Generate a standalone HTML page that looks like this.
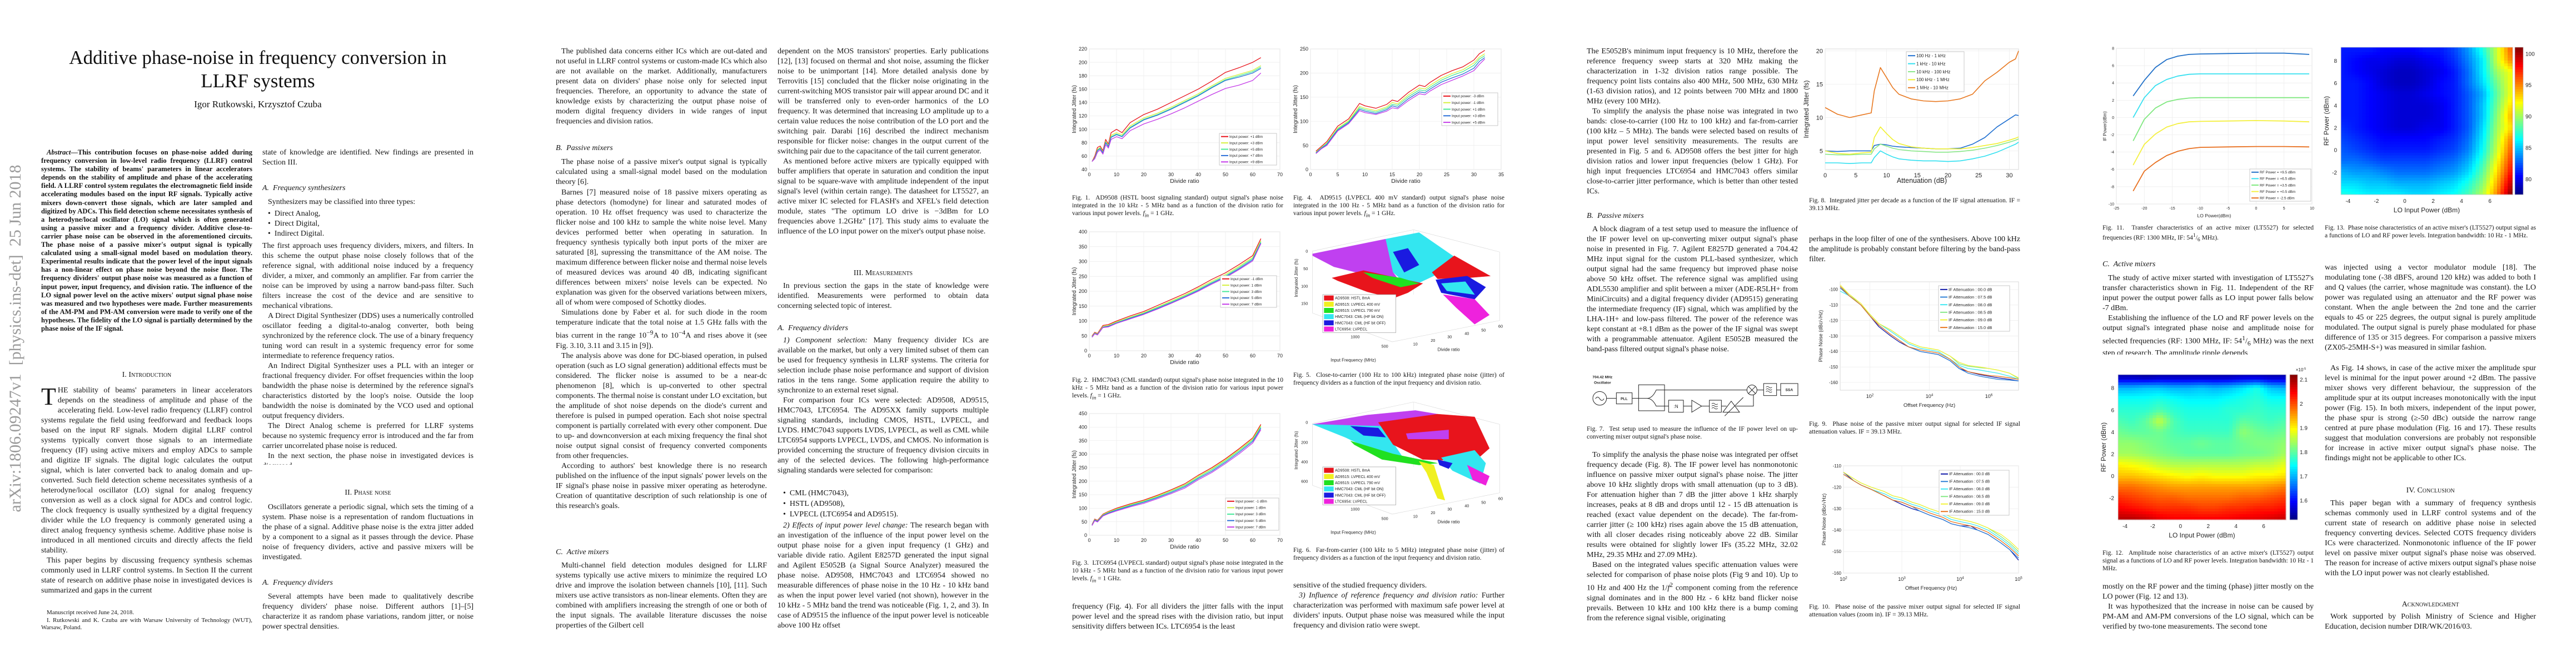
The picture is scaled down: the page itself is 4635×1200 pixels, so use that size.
<!DOCTYPE html>
<html><head><meta charset="utf-8">
<style>
html,body{margin:0;padding:0;background:#fff;}
body{width:4635px;height:1200px;position:relative;overflow:hidden;}
.t{position:absolute;width:380px;font-family:"Liberation Serif",serif;font-size:14px;line-height:18px;text-align:justify;color:#151515;overflow:hidden;}
.t p{margin:0;text-indent:10px;}
.h{position:absolute;width:380px;font-family:"Liberation Serif",serif;font-size:14px;line-height:18px;color:#151515;}
.hc{text-align:center;font-variant:small-caps;}
.hi{font-style:italic;}
.cap{position:absolute;width:380px;font-family:"Liberation Serif",serif;font-size:11.5px;line-height:14px;text-align:justify;color:#151515;overflow:hidden;}
.abs{font-weight:bold;font-size:12.6px;line-height:15.1px;}
.fn{font-size:11px;line-height:13.5px;}
.li{position:absolute;font-family:"Liberation Serif",serif;font-size:14px;line-height:18px;color:#151515;}
svg text{font-family:"Liberation Sans",sans-serif;}
</style></head>
<body>
<div style="position:absolute;left:28px;top:609px;transform:translate(-50%,-50%) rotate(-90deg);font-family:'Liberation Serif',serif;font-size:30px;color:#9a9a9a;white-space:nowrap;">arXiv:1806.09247v1&nbsp; [physics.ins-det]&nbsp; 25 Jun 2018</div>

<div style="position:absolute;left:0;top:83px;width:928px;text-align:center;font-family:'Liberation Serif',serif;font-size:35px;line-height:42px;color:#111;">Additive phase-noise in frequency conversion in<br>LLRF systems</div>
<div style="position:absolute;left:0;top:178px;width:928px;text-align:center;font-family:'Liberation Serif',serif;font-size:17px;color:#111;">Igor Rutkowski, Krzysztof Czuba</div>

<div class="t abs" style="left:74px;top:267px;height:364px;"><p><i>Abstract</i>—This contribution focuses on phase-noise added during frequency conversion in low-level radio frequency (LLRF) control systems. The stability of beams' parameters in linear accelerators depends on the stability of amplitude and phase of the accelerating field. A LLRF control system regulates the electromagnetic field inside accelerating modules based on the input RF signals. Typically active mixers down-convert those signals, which are later sampled and digitized by ADCs. This field detection scheme necessitates synthesis of a heterodyne/local oscillator (LO) signal which is often generated using a passive mixer and a frequency divider. Additive close-to-carrier phase noise can be observed in the aforementioned circuits. The phase noise of a passive mixer's output signal is typically calculated using a small-signal model based on modulation theory. Experimental results indicate that the power level of the input signals has a non-linear effect on phase noise beyond the noise floor. The frequency dividers' output phase noise was measured as a function of input power, input frequency, and division ratio. The influence of the LO signal power level on the active mixers' output signal phase noise was measured and two hypotheses were made. Further measurements of the AM-PM and PM-AM conversion were made to verify one of the hypotheses. The fidelity of the LO signal is partially determined by the phase noise of the IF signal.</p></div>

<div class="h hc" style="left:74px;top:666px;">I. Introduction</div>
<div class="t" style="left:74px;top:694px;height:378px;"><p style="text-indent:0"><span style="float:left;font-size:44px;line-height:36px;margin:2px 3px 0 0;">T</span>HE stability of beams' parameters in linear accelerators depends on the steadiness of amplitude and phase of the accelerating field. Low-level radio frequency (LLRF) control systems regulate the field using feedforward and feedback loops based on the input RF signals. Modern digital LLRF control systems typically convert those signals to an intermediate frequency (IF) using active mixers and employ ADCs to sample and digitize IF signals. The digital logic calculates the output signal, which is later converted back to analog domain and up-converted. Such field detection scheme necessitates synthesis of a heterodyne/local oscillator (LO) signal for analog frequency conversion as well as a clock signal for ADCs and control logic. The clock frequency is usually synthesized by a digital frequency divider while the LO frequency is commonly generated using a direct analog frequency synthesis scheme. Additive phase noise is introduced in all mentioned circuits and directly affects the field stability.</p><p>This paper begins by discussing frequency synthesis schemas commonly used in LLRF control systems. In Section II the current state of research on additive phase noise in investigated devices is summarized and gaps in the current</p></div>
<div class="t fn" style="left:74px;top:1096px;height:42px;"><p>Manuscript received June 24, 2018.</p><p>I. Rutkowski and K. Czuba are with Warsaw University of Technology (WUT), Warsaw, Poland.</p></div>

<div class="t" style="left:472px;top:266px;height:36px;">state of knowledge are identified. New findings are presented in Section III.</div>
<div class="h hi" style="left:472px;top:330px;">A.&nbsp; Frequency synthesizers</div>
<div class="h" style="left:482px;top:355px;">Synthesizers may be classified into three types:</div>
<div class="li" style="left:482px;top:376px;">•&nbsp; Direct Analog,</div>
<div class="li" style="left:482px;top:394px;">•&nbsp; Direct Digital,</div>
<div class="li" style="left:482px;top:412px;">•&nbsp; Indirect Digital.</div>
<div class="t" style="left:472px;top:434px;height:402px;"><p style="text-indent:0">The first approach uses frequency dividers, mixers, and filters. In this scheme the output phase noise closely follows that of the reference signal, with additional noise induced by a frequency divider, a mixer, and commonly an amplifier. Far from carrier the noise can be improved by using a narrow band-pass filter. Such filters increase the cost of the device and are sensitive to mechanical vibrations.</p><p>A Direct Digital Synthesizer (DDS) uses a numerically controlled oscillator feeding a digital-to-analog converter, both being synchronized by the reference clock. The use of a binary frequency tuning word can result in a systemic frequency error for some intermediate to reference frequency ratios.</p><p>An Indirect Digital Synthesizer uses a PLL with an integer or fractional frequency divider. For offset frequencies within the loop bandwidth the phase noise is determined by the reference signal's characteristics distorted by the loop's noise. Outside the loop bandwidth the noise is dominated by the VCO used and optional output frequency dividers.</p><p>The Direct Analog scheme is preferred for LLRF systems because no systemic frequency error is introduced and the far from carrier uncorrelated phase noise is reduced.</p><p>In the next section, the phase noise in investigated devices is discussed.</p></div>
<div class="h hc" style="left:472px;top:878px;">II. Phase noise</div>
<div class="t" style="left:472px;top:904px;height:108px;"><p>Oscillators generate a periodic signal, which sets the timing of a system. Phase noise is a representation of random fluctuations in the phase of a signal. Additive phase noise is the extra jitter added by a component to a signal as it passes through the device. Phase noise of frequency dividers, active and passive mixers will be investigated.</p></div>
<div class="h hi" style="left:472px;top:1040px;">A.&nbsp; Frequency dividers</div>
<div class="t" style="left:472px;top:1065px;height:72px;"><p>Several attempts have been made to qualitatively describe frequency dividers' phase noise. Different authors [1]–[5] characterize it as random phase variations, random jitter, or noise power spectral densities.</p></div>

<!-- PAGE 2 -->
<div class="t" style="left:1000px;top:84px;height:144px;"><p>The published data concerns either ICs which are out-dated and not useful in LLRF control systems or custom-made ICs which also are not available on the market. Additionally, manufacturers present data on dividers' phase noise only for selected input frequencies. Therefore, an opportunity to advance the state of knowledge exists by characterizing the output phase noise of modern digital frequency dividers in wide ranges of input frequencies and division ratios.</p></div>
<div class="h hi" style="left:1000px;top:258px;">B.&nbsp; Passive mixers</div>
<div class="t" style="left:1000px;top:283px;height:54px;"><p>The phase noise of a passive mixer's output signal is typically calculated using a small-signal model based on the modulation theory [6].</p></div>
<div class="t" style="left:1000px;top:338px;height:618px;"><p>Barnes [7] measured noise of 18 passive mixers operating as phase detectors (homodyne) for linear and saturated modes of operation. 10 Hz offset frequency was used to characterize the flicker noise and 100 kHz to sample the white noise level. Many devices performed better when operating in saturation. In frequency synthesis typically both input ports of the mixer are saturated [8], supressing the transmittance of the AM noise. The maximum difference between flicker noise and thermal noise levels of measured devices was around 40 dB, indicating significant differences between mixers' noise levels can be expected. No explanation was given for the observed variations between mixers, all of whom were composed of Schottky diodes.</p><p>Simulations done by Faber et al. for such diode in the room temperature indicate that the total noise at 1.5 GHz falls with the bias current in the range 10<sup>−9</sup>A to 10<sup>−4</sup>A and rises above it (see Fig. 3.10, 3.11 and 3.15 in [9]).</p><p>The analysis above was done for DC-biased operation, in pulsed operation (such as LO signal generation) additional effects must be considered. The flicker noise is assumed to be a near-dc phenomenon [8], which is up-converted to other spectral components. The thermal noise is constant under LO excitation, but the amplitude of shot noise depends on the diode's current and therefore is pulsed in pumped operation. Each shot noise spectral component is partially correlated with every other component. Due to up- and downconversion at each mixing frequency the final shot noise output signal consist of frequency converted components from other frequencies.</p><p>According to authors' best knowledge there is no research published on the influence of the input signals' power levels on the IF signal's phase noise in passive mixer operating as heterodyne. Creation of quantitative description of such relationship is one of this research's goals.</p></div>
<div class="h hi" style="left:1000px;top:985px;">C.&nbsp; Active mixers</div>
<div class="t" style="left:1000px;top:1009px;height:126px;"><p>Multi-channel field detection modules designed for LLRF systems typically use active mixers to minimize the required LO drive and improve the isolation between channels [10], [11]. Such mixers use active transistors as non-linear elements. Often they are combined with amplifiers increasing the strength of one or both of the input signals. The available literature discusses the noise properties of the Gilbert cell</p></div>
<div class="t" style="left:1399px;top:84px;height:378px;"><p style="text-indent:0">dependent on the MOS transistors' properties. Early publications [12], [13] focused on thermal and shot noise, assuming the flicker noise to be unimportant [14]. More detailed analysis done by Terrovitis [15] concluded that the flicker noise originating in the current-switching MOS transistor pair will appear around DC and it will be transferred only to even-order harmonics of the LO frequency. It was determined that increasing LO amplitude up to a certain value reduces the noise contribution of the LO port and the switching pair. Darabi [16] described the indirect mechanism responsible for flicker noise: changes in the output current of the switching pair due to the capacitance of the tail current generator.</p><p>As mentioned before active mixers are typically equipped with buffer amplifiers that operate in saturation and condition the input signal to be square-wave with amplitude independent of the input signal's level (within certain range). The datasheet for LT5527, an active mixer IC selected for FLASH's and XFEL's field detection module, states "The optimum LO drive is −3dBm for LO frequencies above 1.2GHz" [17]. This study aims to evaluate the influence of the LO input power on the mixer's output phase noise.</p></div>
<div class="h hc" style="left:1399px;top:483px;">III. Measurements</div>
<div class="t" style="left:1399px;top:506px;height:54px;"><p>In previous section the gaps in the state of knowledge were identified. Measurements were performed to obtain data concerning selected topic of interest.</p></div>
<div class="h hi" style="left:1399px;top:582px;">A.&nbsp; Frequency dividers</div>
<div class="t" style="left:1399px;top:604px;height:272px;"><p><i>1) Component selection:</i> Many frequency divider ICs are available on the market, but only a very limited subset of them can be used for frequency synthesis in LLRF systems. The criteria for selection include phase noise performance and support of division ratios in the tens range. Some application require the ability to synchronize to an external reset signal.</p><p>For comparison four ICs were selected: AD9508, AD9515, HMC7043, LTC6954. The AD95XX family supports multiple signaling standards, including CMOS, HSTL, LVPECL, and LVDS. HMC7043 supports LVDS, LVPECL, as well as CML while LTC6954 supports LVPECL, LVDS, and CMOS. No information is provided concerning the structure of frequency division circuits in any of the selected devices. The following high-performance signaling standards were selected for comparison:</p></div>
<div class="li" style="left:1409px;top:879px;">•&nbsp; CML (HMC7043),</div>
<div class="li" style="left:1409px;top:898px;">•&nbsp; HSTL (AD9508),</div>
<div class="li" style="left:1409px;top:917px;">•&nbsp; LVPECL (LTC6954 and AD9515).</div>
<div class="t" style="left:1399px;top:937px;height:198px;"><p><i>2) Effects of input power level change:</i> The research began with an investigation of the influence of the input power level on the output phase noise for a given input frequency (1 GHz) and variable divide ratio. Agilent E8257D generated the input signal and Agilent E5052B (a Signal Source Analyzer) measured the phase noise. AD9508, HMC7043 and LTC6954 showed no measurable differences of phase noise in the 10 Hz - 10 kHz band as when the input power level varied (not shown), however in the 10 kHz - 5 MHz band the trend was noticeable (Fig. 1, 2, and 3). In case of AD9515 the influence of the input power level is noticeable above 100 Hz offset</p></div>

<!-- PAGE 3 captions -->
<div class="cap" style="left:1929px;top:349px;">Fig. 1.&nbsp; AD9508 (HSTL boost signaling standard) output signal's phase noise integrated in the 10 kHz - 5 MHz band as a function of the division ratio for various input power levels. <i>f<sub>in</sub></i> = 1 GHz.</div>
<div class="cap" style="left:1929px;top:677px;">Fig. 2.&nbsp; HMC7043 (CML standard) output signal's phase noise integrated in the 10 kHz - 5 MHz band as a function of the division ratio for various input power levels. <i>f<sub>in</sub></i> = 1 GHz.</div>
<div class="cap" style="left:1929px;top:1006px;">Fig. 3.&nbsp; LTC6954 (LVPECL standard) output signal's phase noise integrated in the 10 kHz - 5 MHz band as a function of the division ratio for various input power levels. <i>f<sub>in</sub></i> = 1 GHz.</div>
<div class="t" style="left:1929px;top:1083px;height:54px;">frequency (Fig. 4). For all dividers the jitter falls with the input power level and the spread rises with the division ratio, but input sensitivity differs between ICs. LTC6954 is the least</div>
<div class="cap" style="left:2327px;top:349px;">Fig. 4.&nbsp; AD9515 (LVPECL 400 mV standard) output signal's phase noise integrated in the 100 Hz - 5 MHz band as a function of the division ratio for various input power levels. <i>f<sub>in</sub></i> = 1 GHz.</div>
<div class="cap" style="left:2327px;top:668px;">Fig. 5.&nbsp; Close-to-carrier (100 Hz to 100 kHz) integrated phase noise (jitter) of frequency dividers as a function of the input frequency and division ratio.</div>
<div class="cap" style="left:2327px;top:983px;">Fig. 6.&nbsp; Far-from-carrier (100 kHz to 5 MHz) integrated phase noise (jitter) of frequency dividers as a function of the input frequency and division ratio.</div>
<div class="t" style="left:2327px;top:1045px;height:90px;"><p style="text-indent:0">sensitive of the studied frequency dividers.</p><p><i>3) Influence of reference frequency and division ratio:</i> Further characterization was performed with maximum safe power level at dividers' inputs. Output phase noise was measured while the input frequency and division ratio were swept.</p></div>

<!-- PAGE 4 -->
<div class="t" style="left:2855px;top:84px;height:270px;"><p style="text-indent:0">The E5052B's minimum input frequency is 10 MHz, therefore the reference frequency sweep starts at 320 MHz making the characterization in 1-32 division ratios range possible. The frequency point lists contains also 400 MHz, 500 MHz, 630 MHz (1-63 division ratios), and 12 points between 700 MHz and 1800 MHz (every 100 MHz).</p><p>To simplify the analysis the phase noise was integrated in two bands: close-to-carrier (100 Hz to 100 kHz) and far-from-carrier (100 kHz – 5 MHz). The bands were selected based on results of input power level sensitivity measurements. The results are presented in Fig. 5 and 6. AD9508 offers the best jitter for high division ratios and lower input frequencies (below 1 GHz). For high input frequencies LTC6954 and HMC7043 offers similar close-to-carrier jitter performance, which is better than other tested ICs.</p></div>
<div class="h hi" style="left:2855px;top:380px;">B.&nbsp; Passive mixers</div>
<div class="t" style="left:2855px;top:404px;height:252px;"><p>A block diagram of a test setup used to measure the influence of the IF power level on up-converting mixer output signal's phase noise in presented in Fig. 7. Agilent E8257D generated a 704.42 MHz input signal for the custom PLL-based synthesizer, which output signal had the same frequency but improved phase noise above 50 kHz offset. The reference signal was amplified using ADL5530 amplifier and split between a mixer (ADE-R5LH+ from MiniCircuits) and a digital frequency divider (AD9515) generating the intermediate frequency (IF) signal, which was amplified by the LHA-1H+ and low-pass filtered. The power of the reference was kept constant at +8.1 dBm as the power of the IF signal was swept with a programmable attenuator. Agilent E5052B measured the band-pass filtered output signal's phase noise.</p></div>
<div class="cap" style="left:2855px;top:765px;">Fig. 7.&nbsp; Test setup used to measure the influence of the IF power level on up-converting mixer output signal's phase noise.</div>
<div class="t" style="left:2855px;top:810px;height:325px;"><p>To simplify the analysis the phase noise was integrated per offset frequency decade (Fig. 8). The IF power level has nonmonotonic influence on passive mixer output signal's phase noise. The jitter above 10 kHz slightly drops with small attenuation (up to 3 dB). For attenuation higher than 7 dB the jitter above 1 kHz sharply increases, peaks at 8 dB and drops until 12 - 15 dB attenuation is reached (exact value dependent on the decade). The far-from-carrier jitter (≥ 100 kHz) rises again above the 15 dB attenuation, with all closer decades rising noticeably above 22 dB. Similar results were obtained for slightly lower IFs (35.22 MHz, 32.02 MHz, 29.35 MHz and 27.09 MHz).</p><p>Based on the integrated values specific attenuation values were selected for comparison of phase noise plots (Fig 9 and 10). Up to 10 Hz and 400 Hz the 1/<i>f</i><sup>2</sup> component coming from the reference signal dominates and in the 800 Hz - 6 kHz band flicker noise prevails. Between 10 kHz and 100 kHz there is a bump coming from the reference signal visible, originating</p></div>
<div class="cap" style="left:3255px;top:354px;">Fig. 8.&nbsp; Integrated jitter per decade as a function of the IF signal attenuation. IF = 39.13 MHz.</div>
<div class="t" style="left:3255px;top:422px;height:54px;">perhaps in the loop filter of one of the synthesisers. Above 100 kHz the amplitude is probably constant before filtering by the band-pass filter.</div>
<div class="cap" style="left:3255px;top:756px;">Fig. 9.&nbsp; Phase noise of the passive mixer output signal for selected IF signal attenuation values. IF = 39.13 MHz.</div>
<div class="cap" style="left:3255px;top:1085px;">Fig. 10.&nbsp; Phase noise of the passive mixer output signal for selected IF signal attenuation values (zoom in). IF = 39.13 MHz.</div>

<!-- PAGE 5 -->
<div class="cap" style="left:3783px;top:403px;">Fig. 11.&nbsp; Transfer characteristics of an active mixer (LT5527) for selected frequencies (RF: 1300 MHz, IF: 54<sup>1</sup>/<sub>6</sub> MHz).</div>
<div class="h hi" style="left:3783px;top:467px;">C.&nbsp; Active mixers</div>
<div class="t" style="left:3783px;top:492px;height:146px;"><p>The study of active mixer started with investigation of LT5527's transfer characteristics shown in Fig. 11. Independent of the RF input power the output power falls as LO input power falls below -7 dBm.</p><p>Establishing the influence of the LO and RF power levels on the output signal's integrated phase noise and amplitude noise for selected frequencies (RF: 1300 MHz, IF: 54<sup>1</sup>/<sub>6</sub> MHz) was the next step of research. The amplitude ripple depends</p></div>
<div class="cap" style="left:3783px;top:988px;">Fig. 12.&nbsp; Amplitude noise characteristics of an active mixer's (LT5527) output signal as a functions of LO and RF power levels. Integration bandwidth: 10 Hz - 1 MHz.</div>
<div class="t" style="left:3783px;top:1047px;height:90px;"><p style="text-indent:0">mostly on the RF power and the timing (phase) jitter mostly on the LO power (Fig. 12 and 13).</p><p>It was hypothesized that the increase in noise can be caused by PM-AM and AM-PM conversions of the LO signal, which can be verified by two-tone measurements. The second tone</p></div>
<div class="cap" style="left:4183px;top:403px;">Fig. 13.&nbsp; Phase noise characteristics of an active mixer's (LT5527) output signal as a functions of LO and RF power levels. Integration bandwidth: 10 Hz - 1 MHz.</div>
<div class="t" style="left:4183px;top:473px;height:180px;"><p style="text-indent:0">was injected using a vector modulator module [18]. The modulating tone (-38 dBFS, around 120 kHz) was added to both I and Q values (the carrier, whose magnitude was constant). the LO power was regulated using an attenuator and the RF power was constant. When the angle between the 2nd tone and the carrier equals to 45 or 225 degrees, the output signal is purely amplitude modulated. The output signal is purely phase modulated for phase difference of 135 or 315 degrees. For comparison a passive mixers (ZX05-25MH-S+) was measured in similar fashion.</p></div>
<div class="t" style="left:4183px;top:654px;height:198px;"><p>As Fig. 14 shows, in case of the active mixer the amplitude spur level is minimal for the input power around +2 dBm. The passive mixer shows very different behaviour, the suppression of the amplitude spur at its output increases monotonically with the input power (Fig. 15). In both mixers, independent of the input power, the phase spur is strong (≥-50 dBc) outside the narrow range centred at pure phase modulation (Fig. 16 and 17). These results suggest that modulation conversions are probably not responsible for increase in active mixer output signal's phase noise. The findings might not be applicable to other ICs.</p></div>
<div class="h hc" style="left:4183px;top:874px;">IV. Conclusion</div>
<div class="t" style="left:4183px;top:897px;height:162px;"><p>This paper began with a summary of frequency synthesis schemas commonly used in LLRF control systems and of the current state of research on additive phase noise in selected frequency converting devices. Selected COTS frequency dividers ICs were characterized. Nonmonotonic influence of the IF power level on passive mixer output signal's phase noise was observed. The reason for increase of active mixers output signal's phase noise with the LO input power was not clearly established.</p></div>
<div class="h hc" style="left:4183px;top:1079px;">Acknowledgment</div>
<div class="t" style="left:4183px;top:1101px;height:36px;"><p>Work supported by Polish Ministry of Science and Higher Education, decision number DIR/WK/2016/03.</p></div>

<svg id="figs" width="4635" height="1200" style="position:absolute;left:0;top:0;" xmlns="http://www.w3.org/2000/svg"></svg>

<script>
// ---------- DATA ----------
const fig1X = [1,2,3,4,5,6,7,8,10,12,15,20,25,30,35,40,45,50,55,60,63];
const fig1P1 = [52,60,73,75,68,85,78,95,100,95,110,122,130,140,150,160,172,185,192,200,207];
const fig1P3 = [52,58,70,73,66,82,76,91,95,92,105,117,124,133,143,153,165,176,182,188,195];
const fig1P5 = [52,57,69,72,65,81,75,89,93,90,103,115,122,131,141,151,163,174,180,186,193];
const fig1P7 = [52,57,68,71,65,80,74,88,92,89,102,114,121,130,140,150,162,173,178,184,191];
const fig1P9 = [52,56,66,69,63,77,72,85,89,86,98,108,115,123,132,142,152,161,166,173,184];
const fig1Labels = ['Input power: +1 dBm','Input power: +3 dBm','Input power: +5 dBm','Input power: +7 dBm','Input power: +9 dBm'];
const fig1XTicks = [0,10,20,30,40,50,60,70];
const fig1YTicks = [40,60,80,100,120,140,160,180,200,220];

const fig2X = [1,2,3,5,7,10,15,20,25,30,35,40,45,50,55,60,63];
const fig2Pm1 = [50,62,58,85,88,100,117,132,152,172,192,215,240,262,290,320,377];
const fig2P1 = [48,60,56,82,85,97,113,128,147,167,187,210,234,256,284,314,370];
const fig2P3 = [47,59,55,80,83,95,111,126,145,164,184,206,230,252,280,310,366];
const fig2P5 = [46,58,54,79,82,93,109,124,142,161,181,203,227,249,276,306,362];
const fig2P7 = [45,57,53,78,80,92,107,122,140,159,179,200,224,246,273,302,360];
const fig2Labels = ['Input power: -1 dBm','Input power: 1 dBm','Input power: 3 dBm','Input power: 5 dBm','Input power: 7 dBm'];
const fig2YTicks = [0,50,100,150,200,250,300,350,400];

const fig3X = [1,2,3,5,7,10,15,20,25,30,35,40,45,50,55,60,63];
const fig3Pm1 = [40,60,55,78,88,100,116,130,148,168,190,222,250,283,320,360,410];
const fig3P1 = [39,58,53,76,86,97,113,127,145,165,186,218,246,279,316,356,405];
const fig3P3 = [38,57,52,74,84,95,111,125,142,162,183,214,242,275,312,352,401];
const fig3P5 = [37,56,51,73,82,93,108,122,139,158,179,210,237,270,307,347,396];
const fig3P7 = [36,54,49,71,80,90,105,118,135,154,174,205,232,265,301,341,390];
const fig3Labels = ['Input power: -1 dBm','Input power: 1 dBm','Input power: 3 dBm','Input power: 5 dBm','Input power: 7 dBm'];
const fig3YTicks = [0,50,100,150,200,250,300,350,400,450];

const fig4X = [1,2,3,5,7,9,10,12,14,15,16,18,20,21,22,24,26,28,30,31,32];
const fig4Pm3 = [38,48,58,90,105,137,132,127,135,144,141,160,175,172,181,195,205,213,227,240,247];
const fig4Pm1 = [36,46,55,86,101,131,127,122,130,139,136,155,169,167,175,189,199,207,221,233,240];
const fig4P1 = [35,45,54,84,99,128,124,119,127,135,133,151,165,163,171,185,195,203,216,229,236];
const fig4P3 = [34,44,52,82,97,125,121,116,124,132,129,147,161,159,167,181,190,198,210,224,232];
const fig4P5 = [33,43,50,80,95,122,118,114,121,128,126,143,157,155,163,176,185,194,205,218,229];
const fig4Labels = ['Input power: -3 dBm','Input power: -1 dBm','Input power: +1 dBm','Input power: +3 dBm','Input power: +5 dBm'];
const fig4XTicks = [0,5,10,15,20,25,30,35];
const fig4YTicks = [0,50,100,150,200,250];

const fig8X = [0,2,4,6,7.5,8,9,10,11,12,14,16,18,20,22,24,26,28,30,31,31.5];
const fig8Dec1 = [5,4.9,5,5,5,5.8,6,5.9,5.7,5.6,5.5,5.4,5.3,5.3,5.4,6,7,8.6,9.8,10.4,10.3];
const fig8Dec2 = [3.2,3.2,3.1,3.2,3.2,4,5,4.5,4.1,3.8,3.6,3.5,3.5,3.4,3.5,3.8,4.2,4.8,5.6,6,6.3];
const fig8Dec3 = [4.5,4.4,4.4,4.5,4.5,5.3,6,5.7,5.4,5.2,5,4.9,4.8,4.8,4.9,5.1,5.4,5.8,6.3,6.6,6.8];
const fig8Dec4 = [5,4.6,4.5,4.7,4.8,7,8.6,7.6,6.7,6.1,5.6,5.4,5.3,5.3,5.3,5.5,5.8,6.1,6.6,6.9,7.1];
const fig8Dec5 = [11.5,10.5,10,10.4,10.7,14,17.5,16,14.5,13.5,12.8,12.5,12.4,12.5,12.8,13.5,15.5,16.8,18.3,18.8,20];
const fig8Labels = ['100 Hz - 1 kHz','1 kHz - 10 kHz','10 kHz - 100 kHz','100 kHz - 1 MHz','1 MHz - 10 MHz'];
const fig8XTicks = [0,5,10,15,20,25,30];
const fig8YTicks = [5,10,15,20];

const fig9F = [10,20,50,100,200,500,1000,2000,5000,1e4,2e4,5e4,1e5,2e5,5e5,1e6,2e6,5e6,1e7];
const fig9A00 = [-98,-104,-110,-117,-124,-130,-134,-137,-140,-141,-142,-146,-151,-153,-155,-156,-157,-158,-159];
const fig9A75 = [-99,-104,-110,-117,-123,-129,-133,-137,-140,-141,-142,-146,-151,-154,-156,-157,-158,-158.5,-159];
const fig9A80 = [-101,-104,-110,-116,-122,-127,-131,-135,-138,-139,-140,-145,-149,-151,-152,-153,-154,-156,-158];
const fig9A85 = [-98,-103,-110,-116,-122,-126,-130,-134,-137,-138,-139,-143,-148,-149.5,-150.5,-151,-152,-154,-157.5];
const fig9A90 = [-97,-103,-109,-116,-122,-126,-130,-134,-137,-138,-139,-143,-147,-149,-150,-151,-152,-154,-157];
const fig9A150 = [-98,-104,-110,-117,-123,-129,-133,-137,-139,-140,-141,-145,-150,-153,-154.5,-155.5,-156,-157,-158];
const fig9Labels = ['IF Attenuation : 00.0 dB','IF Attenuation : 07.5 dB','IF Attenuation : 08.0 dB','IF Attenuation : 08.5 dB','IF Attenuation : 09.0 dB','IF Attenuation : 15.0 dB'];
const fig9XTicks = [100,10000,1000000];
const fig9YTicks = [-100,-110,-120,-130,-140,-150,-160];

const fig10F = [100,150,200,300,500,700,1000,1500,2000,3000,5000,7000,1e4,1.5e4,2e4,3e4,5e4,7e4,1e5];
const fig10A00 = [-113,-117,-119,-121,-124,-126,-128,-130,-131,-133,-135,-137,-138,-138,-140,-142,-146,-149,-154];
const fig10A75 = [-114,-117,-119,-121,-124,-126,-127,-129,-131,-133,-135,-137,-138,-139,-140,-142,-146,-149,-153];
const fig10A80 = [-114,-117,-119,-121,-123,-125,-126,-128,-129,-131,-133,-135,-136,-137,-138,-140,-144,-147,-151];
const fig10A85 = [-113,-116,-118,-120,-122,-124,-125,-127,-128,-130,-132,-134,-135,-136,-137,-139,-143,-146,-150];
const fig10A90 = [-113,-116,-118,-120,-122,-124,-125,-127,-128,-130,-132,-134,-135,-136,-137,-139,-142,-145,-149];
const fig10A150 = [-114,-117,-119,-121,-124,-126,-127,-129,-130,-132,-134,-136,-137,-138,-139,-141,-145,-148,-152];
const fig10XTicks = [100,1000,10000,100000];
const fig10YTicks = [-110,-120,-130,-140,-150,-160];

const fig11X = [-22,-20,-18,-16,-14,-12,-10,-5,0,5,9.5];
const fig11R95 = [2.5,4.3,5.8,6.7,7.1,7.3,7.35,7.4,7.45,7.45,7.3];
const fig11R65 = [0,2.3,3.7,4.4,4.8,5,5.05,5.05,5.05,5.05,5.05];
const fig11R35 = [-2.7,-0.2,1.1,1.8,2.1,2.25,2.3,2.3,2.3,2.3,2.3];
const fig11R05 = [-5.5,-3.1,-1.9,-1.1,-0.7,-0.5,-0.45,-0.4,-0.35,-0.4,-0.5];
const fig11Rm25 = [-8.5,-6.2,-5.2,-4.4,-3.9,-3.6,-3.45,-3.4,-3.35,-3.35,-3.4];
const fig11Labels = ['RF Power = +9.5 dBm','RF Power = +6.5 dBm','RF Power = +3.5 dBm','RF Power = +0.5 dBm','RF Power = -2.5 dBm'];
const fig11XTicks = [-25,-20,-15,-10,-5,0,5,10];
const fig11YTicks = [-10,-8,-6,-4,-2,0,2,4,6,8];

const heatLO = [-4.5,-3.5,-2.5,-1.5,-0.5,0.5,1.5,2.5,3.5,4.5,5.5,6.5,7.5];
const heatRF = [9,8,7,6,5,4,3,2,1,0,-1,-2,-3,-4];
const fig12Z = [
 [1.55,1.55,1.54,1.55,1.55,1.55,1.55,1.55,1.55,1.56,1.56,1.55,1.55],
 [1.70,1.70,1.71,1.71,1.70,1.70,1.71,1.70,1.71,1.73,1.76,1.71,1.70],
 [1.75,1.75,1.75,1.76,1.75,1.74,1.74,1.74,1.75,1.76,1.77,1.75,1.75],
 [1.77,1.77,1.77,1.79,1.77,1.76,1.76,1.76,1.77,1.77,1.78,1.77,1.77],
 [1.79,1.78,1.80,1.86,1.79,1.77,1.77,1.77,1.77,1.80,1.79,1.78,1.79],
 [1.81,1.80,1.80,1.81,1.79,1.78,1.78,1.78,1.78,1.83,1.81,1.80,1.81],
 [1.83,1.83,1.82,1.81,1.80,1.80,1.81,1.80,1.80,1.81,1.82,1.82,1.83],
 [1.84,1.84,1.83,1.82,1.81,1.80,1.80,1.80,1.80,1.81,1.81,1.82,1.84],
 [1.90,1.89,1.88,1.86,1.85,1.85,1.85,1.85,1.85,1.85,1.86,1.86,1.88],
 [1.93,1.93,1.92,1.91,1.90,1.89,1.90,1.89,1.89,1.89,1.90,1.90,1.91],
 [1.98,1.98,1.97,1.96,1.95,1.95,1.95,1.95,1.95,1.95,1.95,1.96,1.97],
 [2.02,2.01,2.00,1.99,1.99,1.98,1.98,1.98,1.98,1.99,1.99,2.00,2.01],
 [2.05,2.04,2.03,2.02,2.02,2.02,2.01,2.01,2.02,2.02,2.03,2.03,2.04],
 [2.09,2.09,2.08,2.06,2.05,2.05,2.05,2.05,2.05,2.06,2.06,2.07,2.08]];
const fig12CbTicks = [1.6,1.7,1.8,1.9,2,2.1];
const fig13Z = [
 [81,81,81,80.5,80.5,80.5,81,81,82,84,87,91,96],
 [81,80.5,80,80,79.5,79.5,80,80.5,81.5,83.5,86,91,95],
 [81,80.5,80,79.5,79,79,79.5,80,81,83,86,90,92],
 [81,81,80.5,79.5,79,79,79.5,80.5,81,83,85.5,89,92],
 [81,81,80.5,80,79.5,79.5,80,80.5,81,82.5,84.5,88.5,92],
 [81,81,80.5,80,79.5,79.5,79.5,80,81,82.5,85,89,93],
 [81,81,80.5,80,79.5,79.5,79.5,80,81,82.5,85,89.5,94],
 [81.5,81,80.5,80,79.5,79.5,80,80,81,82.5,85.5,90,93],
 [82,81.5,81,80.5,80.5,80.5,80.5,81,81.5,83,86,90.5,95],
 [82.5,82,81.5,81,81,81,81,81.5,82,83.5,86.5,91,96],
 [83,83,82.5,82,82,82,82,82.5,83,84.5,87.5,92,97],
 [84.5,84,84,83.5,83,83,83,83.5,84,85.5,88.5,93,98],
 [85.5,85.5,85,85,84.5,84.5,84.5,85,85.5,87,89.5,94,99.5],
 [87,86.5,86,86,86,85.5,85.5,86,86.5,88,90.5,95,101]];
const fig13CbTicks = [80,85,90,95,100];
const heatXTicks = [-4,-2,0,2,4,6];
const heatYTicks = [-2,0,2,4,6,8];

const C5 = ['#e8141c','#d6f040','#48e89a','#2a6fd8','#c43ce8'];
const C8 = ['#1f6fd0','#30e0f0','#8ae88a','#f0f030','#e87820'];
const C9 = ['#1018a8','#2f80d6','#40e8f2','#86e886','#f2f23a','#e8741c'];
const C11 = ['#2070c8','#38e0f0','#80e880','#f4f040','#e87020'];

// ---------- HELPERS ----------
const NS = 'http://www.w3.org/2000/svg';
const svg = document.getElementById('figs');
function mk(tag, attrs, parent, name) {
  const el = document.createElementNS(NS, tag);
  for (const k in attrs) el.setAttribute(k, attrs[k]);
  
  
  (parent || svg).appendChild(el);
  return el;
}
function txt(p, x, y, s, size, anchor, name, extra) {
  const a = {x: x, y: y, 'font-size': size, 'text-anchor': anchor || 'middle', fill: '#262626'};
  if (extra) for (const k in extra) a[k] = extra[k];
  const t = mk('text', a, p, name);
  t.textContent = s;
  return t;
}
function supLabel(p, x, y, base, exp, size, name) {
  const t = mk('text', {x: x, y: y, 'font-size': size, 'text-anchor': 'middle', fill: '#262626'}, p, name);
  t.textContent = base;
  const s = mk('tspan', {dy: -size * 0.4, 'font-size': size * 0.7}, t, name + '-exp');
  s.textContent = exp;
  return t;
}

function lineChart(c) {
  const g = mk('g', {}, svg, c.name);
  const lx = v => c.xlog ? Math.log10(v) : v;
  const sx = v => c.x0 + (lx(v) - c.xmin) / (c.xmax - c.xmin) * (c.x1 - c.x0);
  const sy = v => c.y1 - (v - c.ymin) / (c.ymax - c.ymin) * (c.y1 - c.y0);
  mk('rect', {x: c.x0, y: c.y0, width: c.x1 - c.x0, height: c.y1 - c.y0, fill: '#fff', stroke: '#cfcfcf', 'stroke-width': 0.8}, g, 'plot-area');
  const fs = c.fs || 9;
  c.xticks.forEach(v => {
    const x = sx(v);
    mk('line', {x1: x, x2: x, y1: c.y0, y2: c.y1, stroke: '#ebebeb', 'stroke-width': 0.7}, g, 'x-gridline');
    if (c.xlog) supLabel(g, x, c.y1 + fs + 6, '10', String(Math.round(Math.log10(v))), fs + 1, 'x-tick-label');
    else txt(g, x, c.y1 + fs + 3, String(v), fs, 'middle', 'x-tick-label');
  });
  c.yticks.forEach(v => {
    const y = sy(v);
    mk('line', {x1: c.x0, x2: c.x1, y1: y, y2: y, stroke: '#ebebeb', 'stroke-width': 0.7}, g, 'y-gridline');
    txt(g, c.x0 - 4, y + fs * 0.35, String(v), fs, 'end', 'y-tick-label');
  });
  c.series.forEach((s, i) => {
    const pts = c.xs.map((x, j) => sx(x).toFixed(1) + ',' + sy(s[j]).toFixed(1)).join(' ');
    mk('polyline', {points: pts, fill: 'none', stroke: c.colors[i], 'stroke-width': c.sw || 1.3, 'stroke-linejoin': 'round'}, g, 'series-line-' + (i + 1));
  });
  if (c.xlabel) txt(g, (c.x0 + c.x1) / 2, c.y1 + (c.xlog ? 30 : 24), c.xlabel, fs + 1.5, 'middle', 'x-axis-title');
  if (c.ylabel) {
    const yx = c.x0 - (c.ylx || 24), yy = (c.y0 + c.y1) / 2;
    txt(g, yx, yy, c.ylabel, fs + 1, 'middle', 'y-axis-title', {transform: 'rotate(-90 ' + yx + ' ' + yy + ')'});
  }
  if (c.legend) {
    const L = c.legend;
    const lg = mk('g', {}, g, 'legend');
    mk('rect', {x: L.x, y: L.y, width: L.w, height: L.h, fill: '#fff', stroke: '#bdbdbd', 'stroke-width': 0.8}, lg, 'legend-box');
    const step = L.h / c.labels.length;
    c.labels.forEach((lab, i) => {
      const y = L.y + step * (i + 0.5);
      mk('line', {x1: L.x + 3, x2: L.x + 16, y1: y, y2: y, stroke: c.colors[i], 'stroke-width': 2}, lg, 'legend-swatch');
      txt(lg, L.x + 18, y + (L.fs || 7) * 0.35, lab, L.fs || 7, 'start', 'legend-entry');
    });
  }
  return g;
}

function jet(t) {
  t = Math.max(0, Math.min(1, t));
  const f = v => Math.round(255 * Math.max(0, Math.min(1, 1.5 - Math.abs(v))));
  return 'rgb(' + f(4 * t - 3) + ',' + f(4 * t - 2) + ',' + f(4 * t - 1) + ')';
}
function heatmap(c) {
  const g = mk('g', {}, svg, c.name);
  const sx = v => c.x0 + (v - c.xmin) / (c.xmax - c.xmin) * (c.x1 - c.x0);
  const sy = v => c.y1 - (v - c.ymin) / (c.ymax - c.ymin) * (c.y1 - c.y0);
  const nx = c.xs.length, ny = c.ys.length, sub = 4;
  const dx = c.xs[1] - c.xs[0], dy = c.ys[0] - c.ys[1];
  const val = (fi, fj) => {
    const i0 = Math.max(0, Math.min(ny - 1, Math.floor(fi))), i1 = Math.min(ny - 1, i0 + 1);
    const j0 = Math.max(0, Math.min(nx - 1, Math.floor(fj))), j1 = Math.min(nx - 1, j0 + 1);
    const a = Math.max(0, Math.min(1, fi - i0)), b = Math.max(0, Math.min(1, fj - j0));
    return (1 - a) * ((1 - b) * c.z[i0][j0] + b * c.z[i0][j1]) + a * ((1 - b) * c.z[i1][j0] + b * c.z[i1][j1]);
  };
  for (let i = 0; i < ny * sub; i++) {
    for (let j = 0; j < nx * sub; j++) {
      const fi = (i + 0.5) / sub - 0.5, fj = (j + 0.5) / sub - 0.5;
      const xv = c.xs[0] - dx / 2 + j * dx / sub, yv = c.ys[0] + dy / 2 - i * dy / sub;
      const xa = Math.max(c.x0, sx(xv)), xb = Math.min(c.x1, sx(xv + dx / sub));
      const ya = Math.max(c.y0, sy(yv)), yb = Math.min(c.y1, sy(yv - dy / sub));
      if (xb <= xa || yb <= ya) continue;
      mk('rect', {x: xa.toFixed(2), y: ya.toFixed(2), width: (xb - xa + 0.6).toFixed(2), height: (yb - ya + 0.6).toFixed(2), fill: jet((val(fi, fj) - c.vmin) / (c.vmax - c.vmin))}, g, 'heat-cell');
    }
  }
  mk('rect', {x: c.x0, y: c.y0, width: c.x1 - c.x0, height: c.y1 - c.y0, fill: 'none', stroke: '#cfcfcf', 'stroke-width': 0.8}, g, 'plot-frame');
  c.xticks.forEach(v => txt(g, sx(v), c.y1 + 15, String(v), 10, 'middle', 'x-tick-label'));
  c.yticks.forEach(v => txt(g, c.x0 - 7, sy(v) + 4, String(v), 10, 'end', 'y-tick-label'));
  txt(g, (c.x0 + c.x1) / 2, c.y1 + 32, c.xlabel, 12, 'middle', 'x-axis-title');
  const yx = c.x0 - 22, yy = (c.y0 + c.y1) / 2;
  txt(g, yx, yy, c.ylabel, 12, 'middle', 'y-axis-title', {transform: 'rotate(-90 ' + yx + ' ' + yy + ')'});
  const cb = mk('g', {}, g, 'colorbar');
  const N = 60;
  for (let k = 0; k < N; k++) {
    const h = (c.y1 - c.y0) / N;
    mk('rect', {x: c.cbx, y: (c.y1 - (k + 1) * h).toFixed(2), width: c.cbw, height: (h + 0.5).toFixed(2), fill: jet((k + 0.5) / N)}, cb, 'colorbar-step');
  }
  mk('rect', {x: c.cbx, y: c.y0, width: c.cbw, height: c.y1 - c.y0, fill: 'none', stroke: '#bbb', 'stroke-width': 0.7}, cb, 'colorbar-frame');
  c.cbticks.forEach(v => {
    const y = c.y1 - (v - c.vmin) / (c.vmax - c.vmin) * (c.y1 - c.y0);
    txt(cb, c.cbx + c.cbw + 4, y + 4, String(v), 10, 'start', 'colorbar-tick-label');
  });
  if (c.cbExp) supLabel(cb, c.cbx + c.cbw + 6, c.y0 - 6, '×10', '-5', 8, 'colorbar-exponent');
}

// ---------- LINE CHARTS ----------
lineChart({name: 'fig1-chart', x0: 1960, x1: 2303, y0: 88, y1: 305, xmin: 0, xmax: 70, ymin: 40, ymax: 220,
  xticks: fig1XTicks, yticks: fig1YTicks, xs: fig1X, series: [fig1P1, fig1P3, fig1P5, fig1P7, fig1P9], colors: C5, labels: fig1Labels,
  legend: {x: 2194, y: 240, w: 103, h: 57, fs: 6.5}, xlabel: 'Divide ratio', ylabel: 'Integrated Jitter (fs)'});
lineChart({name: 'fig2-chart', x0: 1960, x1: 2303, y0: 417, y1: 631, xmin: 0, xmax: 70, ymin: 0, ymax: 400,
  xticks: fig1XTicks, yticks: fig2YTicks, xs: fig2X, series: [fig2Pm1, fig2P1, fig2P3, fig2P5, fig2P7], colors: C5, labels: fig2Labels,
  legend: {x: 2196, y: 496, w: 101, h: 57, fs: 6.5}, xlabel: 'Divide ratio', ylabel: 'Integrated Jitter (fs)'});
lineChart({name: 'fig3-chart', x0: 1960, x1: 2303, y0: 744, y1: 963, xmin: 0, xmax: 70, ymin: 0, ymax: 450,
  xticks: fig1XTicks, yticks: fig3YTicks, xs: fig3X, series: [fig3Pm1, fig3P1, fig3P3, fig3P5, fig3P7], colors: C5, labels: fig3Labels,
  legend: {x: 2205, y: 896, w: 96, h: 58, fs: 6.3}, xlabel: 'Divide ratio', ylabel: 'Integrated Jitter (fs)'});
lineChart({name: 'fig4-chart', x0: 2358, x1: 2701, y0: 88, y1: 305, xmin: 0, xmax: 35, ymin: 0, ymax: 250,
  xticks: fig4XTicks, yticks: fig4YTicks, xs: fig4X, series: [fig4Pm3, fig4Pm1, fig4P1, fig4P3, fig4P5], colors: C5, labels: fig4Labels,
  legend: {x: 2594, y: 167, w: 101, h: 59, fs: 6.5}, xlabel: 'Divide ratio', ylabel: 'Integrated Jitter (fs)'});
lineChart({name: 'fig8-chart', x0: 3284, x1: 3632, y0: 88, y1: 305, xmin: 0, xmax: 31.5, ymin: 2.2, ymax: 20.3,
  xticks: fig8XTicks, yticks: fig8YTicks, xs: fig8X, series: [fig8Dec1, fig8Dec2, fig8Dec3, fig8Dec4, fig8Dec5], colors: C8, labels: fig8Labels,
  legend: {x: 3430, y: 93, w: 104, h: 72, fs: 8}, xlabel: 'Attenuation (dB)', ylabel: 'Integrated Jitter (fs)', fs: 11, sw: 1.6, ylx: 30});
lineChart({name: 'fig9-chart', x0: 3311, x1: 3632, y0: 507, y1: 702, xmin: 1, xmax: 7, xlog: true, ymin: -165, ymax: -95,
  xticks: fig9XTicks, yticks: fig9YTicks, xs: fig9F, series: [fig9A00, fig9A75, fig9A80, fig9A85, fig9A90, fig9A150], colors: C9, labels: fig9Labels,
  legend: {x: 3488, y: 514, w: 128, h: 82, fs: 7.5}, xlabel: 'Offset Frequency (Hz)', ylabel: 'Phase Noise (dBc/√Hz)', fs: 8, ylx: 32});
lineChart({name: 'fig10-chart', x0: 3317, x1: 3632, y0: 838, y1: 1031, xmin: 2, xmax: 5, xlog: true, ymin: -160, ymax: -110,
  xticks: fig10XTicks, yticks: fig10YTicks, xs: fig10F, series: [fig10A00, fig10A75, fig10A80, fig10A85, fig10A90, fig10A150], colors: C9, labels: fig9Labels,
  legend: {x: 3489, y: 846, w: 126, h: 81, fs: 7}, xlabel: 'Offset Frequency (Hz)', ylabel: 'Phase Noise (dBc/√Hz)', fs: 8, ylx: 32});
lineChart({name: 'fig11-chart', x0: 3808, x1: 4160, y0: 87, y1: 367, xmin: -25, xmax: 10, ymin: -10, ymax: 8,
  xticks: fig11XTicks, yticks: fig11YTicks, xs: fig11X, series: [fig11R95, fig11R65, fig11R35, fig11R05, fig11Rm25], colors: C11, labels: fig11Labels,
  legend: {x: 4048, y: 304, w: 110, h: 58, fs: 6.5}, xlabel: 'LO Power(dBm)', ylabel: 'IF Power(dBm)', fs: 7, sw: 1.8, ylx: 18});

// ---------- HEATMAPS ----------
heatmap({name: 'fig12-heatmap', x0: 3811, x1: 4113, y0: 674, y1: 935, xmin: -4.5, xmax: 7.6, ymin: -4, ymax: 9.2,
  xs: heatLO, ys: heatRF, z: fig12Z, vmin: 1.52, vmax: 2.12, xticks: heatXTicks, yticks: heatYTicks,
  xlabel: 'LO Input Power (dBm)', ylabel: 'RF Power (dBm)', cbx: 4120, cbw: 14, cbticks: fig12CbTicks, cbExp: true});
heatmap({name: 'fig13-heatmap', x0: 4212, x1: 4521, y0: 85, y1: 350, xmin: -4.5, xmax: 7.6, ymin: -4, ymax: 9.2,
  xs: heatLO, ys: heatRF, z: fig13Z, vmin: 77.5, vmax: 101, xticks: heatXTicks, yticks: heatYTicks,
  xlabel: 'LO Input Power (dBm)', ylabel: 'RF Power (dBm)', cbx: 4525, cbw: 15, cbticks: fig13CbTicks});

// ---------- 3D SURFACE ILLUSTRATIONS (Fig 5, Fig 6) ----------
const surf5 = [
 ['#c040f0', [[125,200],[520,120],[560,300],[620,380],[480,330],[360,300],[240,270],[125,210]]],
 ['#33e6f0', [[520,120],[700,85],[910,230],[820,300],[650,380],[560,300]]],
 ['#1a1ae0', [[560,190],[640,170],[700,260],[620,300]]],
 ['#e8141c', [[230,330],[400,290],[720,360],[640,410],[560,440],[420,405],[260,345]]],
 ['#20e020', [[400,300],[600,330],[700,360],[600,380],[450,330]]],
 ['#e8141c', [[770,300],[890,210],[1085,320],[960,330],[800,335]]],
 ['#1a1ae0', [[790,340],[960,320],[1060,380],[1000,445],[820,410]]],
 ['#33e6f0', [[820,360],[950,350],[1000,420],[850,400]]],
 ['#ee22dd', [[830,420],[1000,445],[1080,530],[1000,580],[900,490]]]];
const surf6 = [
 ['#c040f0', [[125,190],[420,140],[680,115],[800,135],[500,200],[300,200]]],
 ['#33e6f0', [[125,190],[500,200],[560,290],[620,380],[450,330],[300,260]]],
 ['#1a1ae0', [[330,200],[480,210],[520,260],[400,250]]],
 ['#e8141c', [[480,180],[800,135],[1000,150],[1080,320],[1000,390],[720,380],[560,300]]],
 ['#c040f0', [[630,240],[860,220],[860,270],[640,270]]],
 ['#20e020', [[330,280],[560,350],[800,400],[700,410],[500,380],[350,300]]],
 ['#f0f020', [[700,390],[780,410],[840,600],[800,590],[740,450]]],
 ['#33e6f0', [[820,370],[1000,330],[1060,400],[1030,510],[880,440]]],
 ['#ee22dd', [[960,410],[1080,470],[1060,520],[990,490]]],
 ['#1a1ae0', [[800,380],[880,400],[860,430],[810,410]]]];
const surfLegend = ['AD9508: HSTL 8mA','AD9515: LVPECL 400 mV','AD9515: LVPECL 790 mV','HMC7043: CML (HF bit ON)','HMC7043: CML (HF bit OFF)','LTC6954: LVPECL'];
const surfLegendColors = ['#e8141c','#f0f020','#20e020','#33e6f0','#1a1ae0','#ee22dd'];
function surface3d(name, ox, oy, polys, zticks) {
  const g = mk('g', {transform: 'translate(' + ox + ',' + oy + ') scale(0.3333)'}, svg, name);
  const box = [[125,185],[125,520],[555,675],[1135,560],[1135,190],[670,70],[125,185]];
  mk('polyline', {points: box.map(p => p.join(',')).join(' '), fill: 'none', stroke: '#d8d8d8', 'stroke-width': 2}, g, 'axes-box');
  mk('line', {x1: 670, y1: 70, x2: 670, y2: 420, stroke: '#e6e6e6', 'stroke-width': 2}, g, 'axes-box-edge');
  polys.forEach(p => mk('polygon', {points: p[1].map(q => q.join(',')).join(' '), fill: p[0], stroke: p[0], 'stroke-width': 1}, g, 'surface-patch'));
  zticks.forEach(t => txt(g, 100, t[1] + 8, t[0], 22, 'end', 'z-tick-label'));
  [['1000',355,655],['500',515,707],['10',680,695],['20',775,675],['30',865,655],['40',958,637],['50',1048,619],['60',1140,599]]
    .forEach(t => txt(g, t[1], t[2], t[0], 22, 'middle', 'axis-tick-label'));
  txt(g, 860, 725, 'Divide ratio', 24, 'middle', 'divide-ratio-title');
  txt(g, 345, 782, 'Input Frequency (MHz)', 24, 'middle', 'input-frequency-title');
  txt(g, 45, 330, 'Integrated Jitter (fs)', 24, 'middle', 'z-axis-title', {transform: 'rotate(-90 45 330)'});
  const lg = mk('g', {}, g, 'legend');
  mk('rect', {x: 180, y: 420, width: 395, height: 205, fill: '#fff', stroke: '#999', 'stroke-width': 2}, lg, 'legend-box');
  surfLegend.forEach((s, i) => {
    const y = 425 + i * 33.5;
    mk('rect', {x: 187, y: y, width: 52, height: 27, fill: surfLegendColors[i]}, lg, 'legend-swatch');
    txt(lg, 246, y + 21, s, 21, 'start', 'legend-entry');
  });
}
surface3d('fig5-surface', 2320, 390, surf5, [['0',185],['50',280],['100',375],['150',468]]);
surface3d('fig6-surface', 2320, 700, surf6, [['0',180],['200',288],['400',392],['600',498]]);

// ---------- FIG 7 BLOCK DIAGRAM ----------
(function () {
  const g = mk('g', {transform: 'translate(2840,660) scale(0.3333)', fill: 'none', stroke: '#222', 'stroke-width': 3}, svg, 'fig7-block-diagram');
  txt(g, 130, 62, '704.42 MHz', 20, 'middle', 'oscillator-frequency-label', {'font-weight': 'bold', stroke: 'none', fill: '#222'});
  txt(g, 130, 92, 'Oscillator', 20, 'middle', 'oscillator-label', {'font-weight': 'bold', stroke: 'none', fill: '#222'});
  mk('circle', {cx: 115, cy: 170, r: 37}, g, 'oscillator-symbol');
  mk('path', {d: 'M92,172 q12,-18 23,0 q12,18 23,0'}, g, 'oscillator-wave');
  mk('rect', {x: 205, y: 140, width: 85, height: 60}, g, 'pll-block');
  txt(g, 247, 178, 'PLL', 20, 'middle', 'pll-label', {'font-weight': 'bold', stroke: 'none', fill: '#222'});
  mk('rect', {x: 325, y: 97, width: 140, height: 140}, g, 'splitter-block');
  mk('rect', {x: 487, y: 180, width: 80, height: 65}, g, 'divider-block');
  txt(g, 527, 222, ':N', 24, 'middle', 'divider-label', {stroke: 'none', fill: '#222'});
  mk('polygon', {points: '612,180 612,245 665,212'}, g, 'amplifier-symbol');
  mk('rect', {x: 707, y: 180, width: 65, height: 65}, g, 'lowpass-filter-block');
  mk('polygon', {points: '780,245 870,245 825,185'}, g, 'attenuator-symbol');
  mk('line', {x1: 790, y1: 265, x2: 890, y2: 165}, g, 'attenuator-arrow');
  mk('circle', {cx: 937, cy: 125, r: 27}, g, 'mixer-symbol');
  mk('path', {d: 'M918,106 L956,144 M956,106 L918,144'}, g, 'mixer-cross');
  mk('rect', {x: 1000, y: 90, width: 70, height: 65}, g, 'bandpass-filter-block');
  mk('rect', {x: 1092, y: 90, width: 93, height: 65}, g, 'ssa-block');
  txt(g, 1138, 130, 'SSA', 20, 'middle', 'ssa-label', {'font-weight': 'bold', stroke: 'none', fill: '#222'});
  mk('path', {d: 'M152,170 H205 M290,170 H370 Q400,170 420,125 H910 M370,170 Q400,170 420,212 H487 M567,212 H612 M665,212 H707 M772,212 H800 M850,212 H945 V152 M964,125 H1000 M1070,125 H1092'}, g, 'signal-wires');
  mk('path', {d: 'M720,200 q8,-8 16,0 q8,8 16,0 M720,212 q8,-8 16,0 q8,8 16,0 M720,224 q8,-8 16,0 q8,8 16,0 M1013,110 q8,-8 16,0 q8,8 16,0 M1013,122 q8,-8 16,0 q8,8 16,0 M1013,134 q8,-8 16,0 q8,8 16,0', 'stroke-width': 2.5}, g, 'filter-symbols');
})();
</script>
</body></html>
